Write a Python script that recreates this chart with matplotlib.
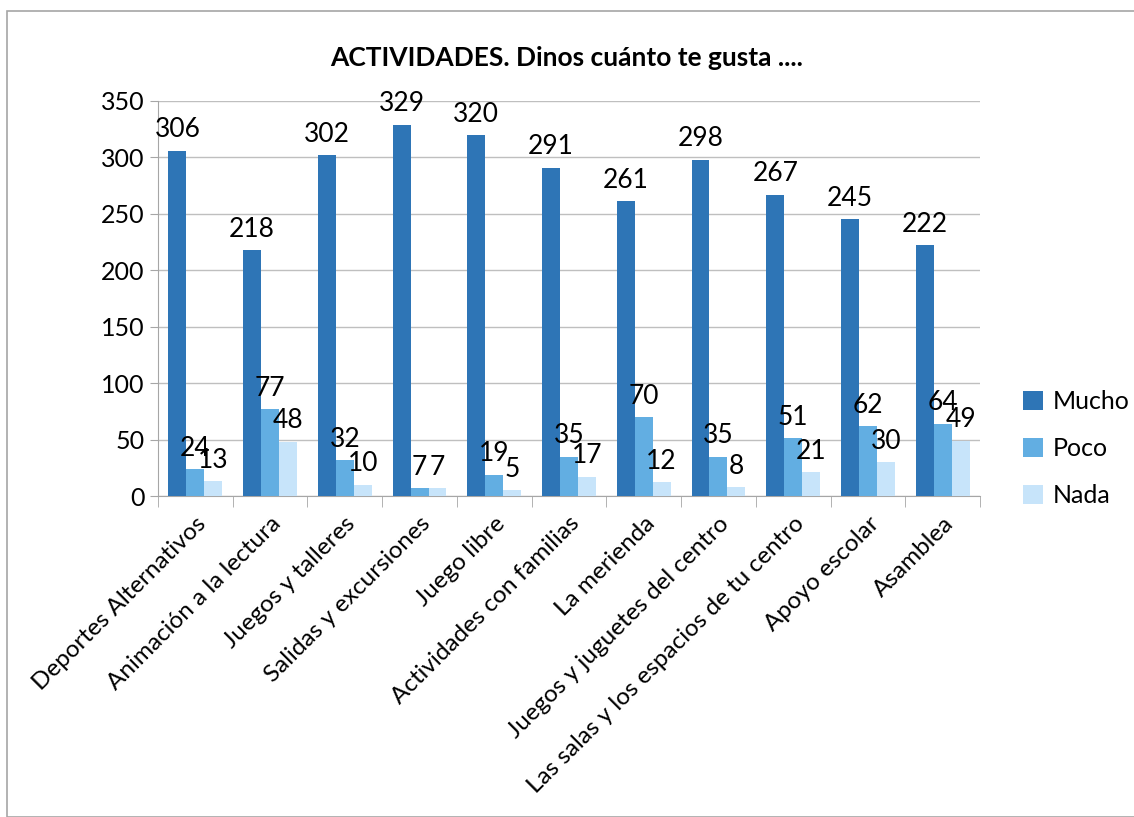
import matplotlib.pyplot as plt
import numpy as np
from matplotlib.patches import Rectangle

plt.rcParams['font.family'] = ['Lato', 'DejaVu Sans']

categories = ['Deportes Alternativos', 'Animación a la lectura', 'Juegos y talleres',
              'Salidas y excursiones', 'Juego libre', 'Actividades con familias',
              'La merienda', 'Juegos y juguetes del centro',
              'Las salas y los espacios de tu centro', 'Apoyo escolar', 'Asamblea']
mucho = [306, 218, 302, 329, 320, 291, 261, 298, 267, 245, 222]
poco = [24, 77, 32, 7, 19, 35, 70, 35, 51, 62, 64]
nada = [13, 48, 10, 7, 5, 17, 12, 8, 21, 30, 49]
series = ['Mucho', 'Poco', 'Nada']
colors = ['#2E75B6', '#62AEE2', '#C7E4FA']

fig = plt.figure(figsize=(11.34, 8.17), dpi=100)
fig.patches.append(Rectangle((7/1134, 0), 1.2, 1 - 11/817, transform=fig.transFigure,
                             fill=False, edgecolor='#A6A6A6', linewidth=1.2))
ax = fig.add_axes([158/1134, 1 - 496/817, 822/1134, 395/817])

x = np.arange(len(categories))
w = 0.24
for i, (vals, name, c) in enumerate(zip([mucho, poco, nada], series, colors)):
    bars = ax.bar(x + (i - 1) * w, vals, w, color=c, label=name, zorder=3)
    ax.bar_label(bars, fontsize=19, padding=6)

ax.set_xlim(-0.5, len(categories) - 0.5)
ax.set_ylim(0, 350)
ax.set_yticks(range(0, 351, 50))
ax.yaxis.grid(True, color='#BFBFBF', linewidth=1)
ax.set_axisbelow(True)
for s in ['top', 'right']:
    ax.spines[s].set_visible(False)
for s in ['left', 'bottom']:
    ax.spines[s].set_color('#A6A6A6')
ax.tick_params(axis='y', labelsize=18, color='#A6A6A6', length=6)
ax.set_xticks(x)
ax.set_xticklabels(categories, rotation=45, ha='right', rotation_mode='anchor', fontsize=17.5)
ax.tick_params(axis='x', which='major', length=0, pad=12)
ax.set_xticks(np.arange(-0.5, len(categories), 1), minor=True)
ax.tick_params(axis='x', which='minor', length=8, color='#A6A6A6')

fig.text(0.5, 1 - 58/817, 'ACTIVIDADES. Dinos cuánto te gusta ....', ha='center',
         va='center', fontsize=19, fontweight='bold')
ax.legend(loc='center left', bbox_to_anchor=(1.025, 0.12), frameon=False, fontsize=18,
          handlelength=0.8, handleheight=0.8, labelspacing=0.95, handletextpad=0.4)

fig.savefig('out.png')
